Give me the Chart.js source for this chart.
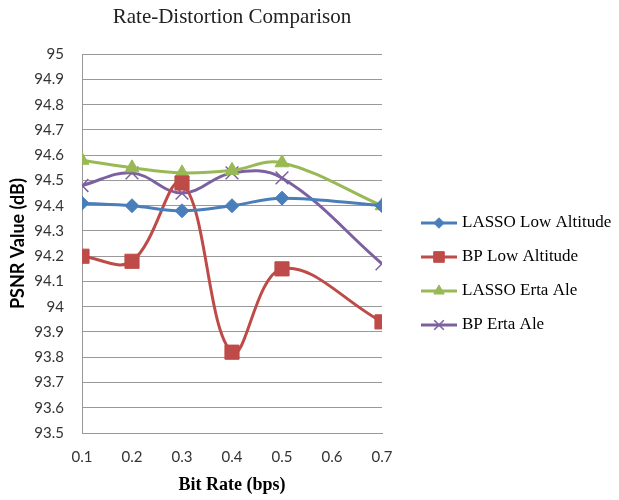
<!DOCTYPE html>
<html>
<head>
<meta charset="utf-8">
<script src="https://cdn.jsdelivr.net/npm/chart.js@4"></script>
<style>
    body { margin: 0; background: #fff; }
    #wrap { width: 619px; height: 500px; }
</style>
</head>
<body>
<div id="wrap"><canvas id="rate-distortion" width="619" height="500"></canvas></div>
<script>
// dados
var bitRates = [0.1, 0.2, 0.3, 0.4, 0.5, 0.7];
var lassoLowAltitude = [94.41, 94.40, 94.38, 94.40, 94.43, 94.40];
var bpLowAltitude = [94.20, 94.18, 94.49, 93.82, 94.15, 93.94];
var lassoErtaAle = [94.58, 94.55, 94.53, 94.54, 94.57, 94.40];
var bpErtaAle = [94.48, 94.53, 94.45, 94.53, 94.51, 94.17];

var seriesNames = ['LASSO Low Altitude', 'BP Low Altitude', 'LASSO Erta Ale', 'BP Erta Ale'];
var xTicks = [0.1, 0.2, 0.3, 0.4, 0.5, 0.6, 0.7];
var yTicks = [93.5, 93.6, 93.7, 93.8, 93.9, 94, 94.1, 94.2, 94.3, 94.4, 94.5, 94.6, 94.7, 94.8, 94.9, 95];

function toPoints(values) {
    return values.map(function(v, i) {
        return { x: bitRates[i], y: v };
    });
}

function makeDataset(label, values, color, style, radius, borderW) {
    return {
        label: label,
        data: toPoints(values),
        borderColor: color,
        backgroundColor: color,
        borderWidth: 3,
        pointStyle: style,
        pointRadius: radius,
        pointHoverRadius: radius,
        pointBackgroundColor: color,
        pointBorderColor: color,
        pointBorderWidth: borderW,
        tension: 0.38
    };
}

var ctxRate = document.getElementById('rate-distortion').getContext('2d');

var dataRate = {
    datasets: [
        makeDataset(seriesNames[0], lassoLowAltitude, '#4A7EBB', 'rectRot', 7, 1),
        makeDataset(seriesNames[1], bpLowAltitude, '#BE4B48', 'rect', 10, 1),
        makeDataset(seriesNames[2], lassoErtaAle, '#98B954', 'triangle', 8, 1),
        makeDataset(seriesNames[3], bpErtaAle, '#7D60A0', 'crossRot', 9, 1.5)
    ]
};

// legenda no estilo do Excel (linha + marcador)
var legendaLateral = {
    id: 'legendaLateral',
    afterDraw: function(chart) {
        var ctx = chart.ctx;
        var area = chart.chartArea;
        var x0 = area.right + 39;
        ctx.save();
        chart.data.datasets.forEach(function(ds, i) {
            var y = 223 + i * 34;
            ctx.strokeStyle = ds.borderColor;
            ctx.lineWidth = 3;
            ctx.beginPath();
            ctx.moveTo(x0, y);
            ctx.lineTo(x0 + 36, y);
            ctx.stroke();
            ctx.fillStyle = ds.pointBackgroundColor;
            ctx.strokeStyle = ds.pointBorderColor;
            ctx.lineWidth = ds.pointBorderWidth;
            Chart.helpers.drawPoint(ctx, {
                pointStyle: ds.pointStyle,
                radius: ds.pointRadius * 0.75,
                borderWidth: ds.pointBorderWidth,
                rotation: 0
            }, x0 + 18, y);
            ctx.fillStyle = '#000';
            ctx.font = '17px "Liberation Serif", "Times New Roman", serif';
            ctx.textBaseline = 'middle';
            ctx.textAlign = 'left';
            ctx.fillText(ds.label, x0 + 41, y);
        });
        ctx.restore();
    }
};

var optionsRate = {
    responsive: false,
    animation: false,
    layout: {
        padding: { left: 0, right: 237, top: 0, bottom: 0 }
    },
    scales: {
        x: {
            type: 'linear',
            min: 0.1,
            max: 0.7,
            afterBuildTicks: function(scale) {
                scale.ticks = xTicks.map(function(v) { return { value: v }; });
            },
            afterFit: function(scale) {
                scale.height = 67;
            },
            grid: {
                display: false,
                drawTicks: false
            },
            border: {
                display: true,
                color: '#999',
                width: 1
            },
            ticks: {
                padding: 15,
                color: '#333',
                font: { family: 'Lato', size: 15 },
                callback: function(v) { return v.toFixed(1); }
            },
            title: {
                display: true,
                text: 'Bit Rate (bps)',
                color: '#000',
                padding: { top: 6, bottom: 4 },
                font: { family: '"Liberation Serif", "Times New Roman", serif', size: 18, weight: 'bold' }
            }
        },
        y: {
            min: 93.5,
            max: 95,
            afterBuildTicks: function(scale) {
                scale.ticks = yTicks.map(function(v) { return { value: v }; });
            },
            afterFit: function(scale) {
                scale.width = 82;
            },
            grid: {
                color: '#999',
                lineWidth: 1,
                drawTicks: false
            },
            border: {
                display: true,
                color: '#999',
                width: 1
            },
            ticks: {
                padding: 18,
                color: '#333',
                font: { family: 'Lato', size: 15 },
                callback: function(v) { return String(Number(v.toFixed(1))); }
            },
            title: {
                display: true,
                text: 'PSNR Value (dB)',
                color: '#000',
                padding: { top: 7, bottom: 0 },
                font: { family: 'Lato', size: 18, weight: 'bold' }
            }
        }
    },
    plugins: {
        legend: {
            display: false
        },
        tooltip: {
            enabled: false
        },
        title: {
            display: true,
            text: 'Rate-Distortion Comparison',
            fullSize: false,
            color: '#222',
            padding: { top: 5, bottom: 24 },
            font: { family: '"Liberation Serif", "Times New Roman", serif', size: 21, weight: 'normal' }
        }
    }
};

var rateChart = new Chart(ctxRate, {
    type: 'line',
    data: dataRate,
    options: optionsRate,
    plugins: [legendaLateral]
});
</script>
</body>
</html>
